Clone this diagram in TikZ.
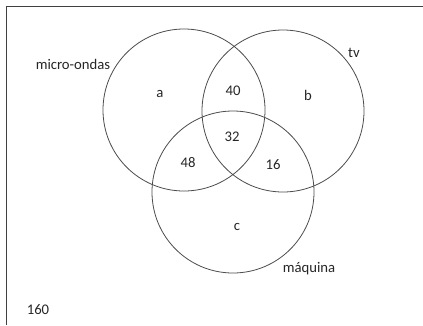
\documentclass[tikz,border=0pt]{standalone}
\usepackage{fontspec}
\setmainfont{Carlito}
\usetikzlibrary{positioning}
\tikzset{
  set/.style={draw=black!70,line width=0.8pt},
  lbl/.style={inner sep=0pt,font=\fontsize{14.7}{16}\selectfont,text=black!85}
}

\begin{document}
\begin{tikzpicture}[x=1pt,y=-1pt]
\useasboundingbox (0,0) rectangle (423,325);
% Frame (only top and left sides show)
\coordinate (tr) at (423,6.5);
\coordinate (tl) at (6.5,6.5);
\coordinate (bl) at (6.5,325);
\draw[black!75,line width=1.6pt] (tr) -- (tl) -- (bl);
% Centres of the three sets
\coordinate (mo) at (184,110);
\coordinate (tv) at (283,111);
\coordinate (mq) at (233,192);
\draw[set] (mo) circle (81);
\draw[set] (tv) circle (81);
\draw[set] (mq) circle (81);
% Set names
\node[lbl] (nmo) at (73,64) {micro-ondas};
\node[lbl] (ntv) at (354,53) {tv};
\node[lbl] (nmq) at (309,269) {máquina};
% Regions
\node[lbl] (ra) at (160,94) {a};
\node[lbl] (rb) at (308,95) {b};
\node[lbl] (rc) at (237,227) {c};
\node[lbl] (rab) at (233,91) {40};
\node[lbl] (rabc) at (232,137) {32};
\node[lbl] (rac) at (188,163) {48};
\node[lbl] (rbc) at (273,165) {16};
\node[lbl] (out) at (38,310) {160};
\end{tikzpicture}
\end{document}
